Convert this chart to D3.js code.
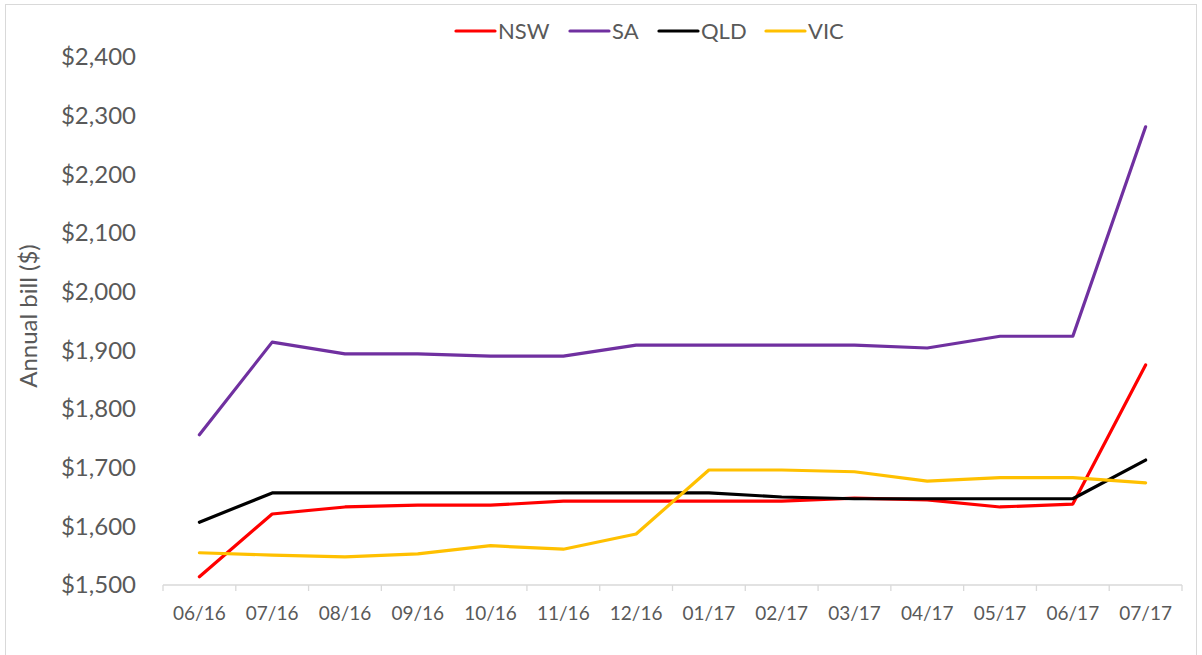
<!DOCTYPE html>
<html>
<head>
<meta charset="utf-8">
<script src="https://cdn.jsdelivr.net/npm/d3@7"></script>
<style>
  body { margin: 0; background: #fff; }
  text { font-family: Lato, "Open Sans", sans-serif; fill: #595959; }
</style>
</head>
<body>
<svg width="1202" height="655"></svg>
<script>
const svg = d3.select("svg");

// DATA
const months = ["06/16", "07/16", "08/16", "09/16", "10/16", "11/16", "12/16",
  "01/17", "02/17", "03/17", "04/17", "05/17", "06/17", "07/17"];
const nsw = [1514, 1621, 1633, 1636, 1636, 1643, 1643, 1643, 1643, 1648, 1645, 1633, 1638, 1875];
const sa = [1756, 1914, 1894, 1894, 1890, 1890, 1909, 1909, 1909, 1909, 1904, 1924, 1924, 2281];
const qld = [1607, 1657, 1657, 1657, 1657, 1657, 1657, 1657, 1650, 1647, 1647, 1647, 1647, 1713];
const vic = [1555, 1551, 1548, 1553, 1567, 1561, 1587, 1696, 1696, 1693, 1677, 1683, 1683, 1674];
const yTicks = [1500, 1600, 1700, 1800, 1900, 2000, 2100, 2200, 2300, 2400];

const series = [
  { name: "NSW", values: nsw, color: "#ff0000" },
  { name: "SA", values: sa, color: "#7030a0" },
  { name: "QLD", values: qld, color: "#000000" },
  { name: "VIC", values: vic, color: "#ffc000" }
];

// CONSTANTS
const plot = { left: 163, right: 1182, top: 57, bottom: 585 };

// outer border
svg.append("rect")
  .attr("x", 5.5).attr("y", 4.5)
  .attr("width", 1191).attr("height", 660)
  .attr("fill", "none").attr("stroke", "#d9d9d9");

//SCALES
const xScale = d3.scaleBand().domain(months).range([plot.left, plot.right]);
const yScale = d3.scaleLinear().domain([1500, 2400]).range([plot.bottom, plot.top]);
const xPos = (d, i) => xScale(months[i]) + xScale.bandwidth() / 2;

// y labels
svg.append("g")
  .selectAll("text")
  .data(yTicks)
  .join("text")
  .attr("x", 136)
  .attr("y", d => yScale(d))
  .attr("dy", "0.35em")
  .attr("text-anchor", "end")
  .attr("font-size", "24px")
  .text(d => "$" + d3.format(",")(d));

// x axis line + ticks
const xAxis = svg.append("g").attr("stroke", "#d9d9d9").attr("stroke-width", 1.3);
xAxis.append("line")
  .attr("x1", plot.left).attr("x2", plot.right)
  .attr("y1", plot.bottom).attr("y2", plot.bottom);
const bounds = months.map(m => xScale(m)).concat([plot.right]);
xAxis.selectAll("line.tick")
  .data(bounds)
  .join("line")
  .attr("class", "tick")
  .attr("x1", d => d).attr("x2", d => d)
  .attr("y1", plot.bottom).attr("y2", plot.bottom + 6);

svg.append("g")
  .selectAll("text")
  .data(months)
  .join("text")
  .attr("x", d => xScale(d) + xScale.bandwidth() / 2)
  .attr("y", 613)
  .attr("dy", "0.35em")
  .attr("text-anchor", "middle")
  .attr("font-size", "19px")
  .text(d => d);

// axis title
svg.append("text")
  .attr("transform", "translate(29, 316) rotate(-90)")
  .attr("dy", "0.35em")
  .attr("text-anchor", "middle")
  .attr("font-size", "24px")
  .text("Annual bill ($)");

// lines
const line = d3.line()
  .x(xPos)
  .y(d => yScale(d));

svg.append("g")
  .selectAll("path")
  .data(series)
  .join("path")
  .attr("d", d => line(d.values))
  .attr("fill", "none")
  .attr("stroke", d => d.color)
  .attr("stroke-width", 3.2)
  .attr("stroke-linejoin", "round")
  .attr("stroke-linecap", "round");

// legend
const legendX = [456, 570, 659, 766];
const legend = svg.append("g")
  .selectAll("g")
  .data(series)
  .join("g")
  .attr("transform", (d, i) => `translate(${legendX[i]}, 31)`);
legend.append("line")
  .attr("x1", 0).attr("x2", 39)
  .attr("stroke", d => d.color)
  .attr("stroke-width", 3.2)
  .attr("stroke-linecap", "round");
legend.append("text")
  .attr("x", 42)
  .attr("dy", "0.35em")
  .attr("font-size", "22px")
  .text(d => d.name);
</script>
</body>
</html>
